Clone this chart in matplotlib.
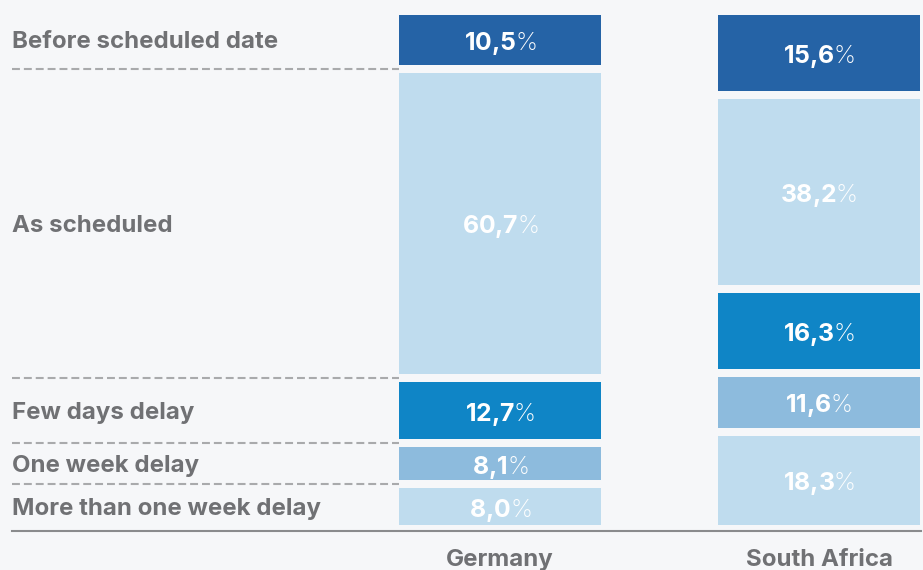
import numpy as np
import matplotlib
matplotlib.use('Agg')
import matplotlib.pyplot as plt

categories = ['Before scheduled date', 'As scheduled', 'Few days delay',
              'One week delay', 'More than one week delay']
countries = ['Germany', 'South Africa']
germany = [10.5, 60.7, 12.7, 8.1, 8.0]
south_africa = [15.6, 38.2, 16.3, 11.6, 18.3]

seg_colors = ['#2563a6', '#bfdcee', '#0f85c6', '#8dbbdd', '#bfdcee']
bg = '#f6f7f9'
label_color = '#707174'

plt.rcParams['font.family'] = ['Inter', 'DejaVu Sans']
plt.rcParams['mathtext.fontset'] = 'custom'
plt.rcParams['mathtext.bf'] = 'Inter:bold'
plt.rcParams['mathtext.rm'] = 'Inter'
FS = 17.3
VAL_FS = 17.8

W, H = 923, 570
fig = plt.figure(figsize=(W / 100, H / 100), dpi=100, facecolor=bg)

# pixel layout of the plot area
s = 5.1          # px per percent
x_unit = 319     # px between bar centres
ax = fig.add_axes([12 / W, (H - 531) / H, (921 - 12) / W, (531 - 10) / H])
ax.set_facecolor(bg)
ax.set_ylim(-6 / s, 100 + 5 / s)
ax.set_xlim((12 - 500) / x_unit, (921 - 500) / x_unit)

width = 202 / x_unit
gap = 8 / s


def pct_text(val):
    # bold number, thin percent sign; {,} keeps mathtext from spacing the comma
    num = ('%.1f' % val).replace('.', '{,}')
    return r'$\mathbf{' + num + r'}$%'


for xi, vals in enumerate([germany, south_africa]):
    top = 100.0
    n = len(vals)
    for i, v in enumerate(vals):
        hi = top - (gap / 2 if i > 0 else 0)
        lo = top - v + (gap / 2 if i < n - 1 else 0)
        ax.bar(xi, hi - lo, bottom=lo, width=width, color=seg_colors[i], linewidth=0)
        ax.text(xi, (hi + lo) / 2, pct_text(v), ha='center', va='center_baseline',
                color='white', fontsize=VAL_FS, fontweight='light')
        top -= v

# row labels and dashed separators, aligned to the first bar
top = 100.0
x_left = ax.get_xlim()[0]
for i, (cat, v) in enumerate(zip(categories, germany)):
    hi = top - (gap / 2 if i > 0 else 0)
    lo = top - v + (gap / 2 if i < len(germany) - 1 else 0)
    ax.text(x_left, (hi + lo) / 2, cat, ha='left', va='center_baseline',
            color=label_color, fontsize=FS, fontweight='bold')
    top -= v
    if i < len(germany) - 1:
        ax.plot([x_left, -width / 2], [top, top], color='#a9aaac', lw=1.5,
                dashes=(3.8, 1.9), solid_capstyle='butt', clip_on=False)

for xi, c in enumerate(countries):
    ax.text(xi, -0.05, c, transform=ax.get_xaxis_transform(), ha='center',
            va='center_baseline', color=label_color, fontsize=FS, fontweight='bold')

for sp in ['top', 'left', 'right']:
    ax.spines[sp].set_visible(False)
ax.spines['bottom'].set_color('#8a8b8d')
ax.spines['bottom'].set_linewidth(1.5)
ax.set_xticks([])
ax.set_yticks([])

fig.savefig('out.png', dpi=100, facecolor=bg)
